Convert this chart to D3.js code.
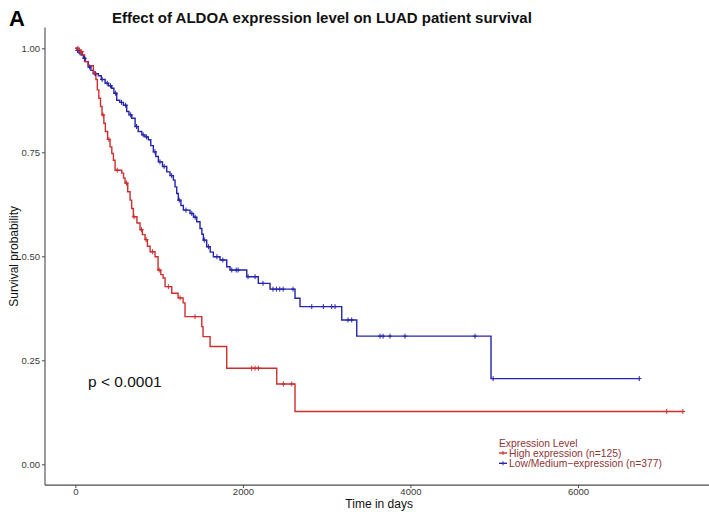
<!DOCTYPE html>
<html>
<head>
<meta charset="utf-8">
<script src="https://cdn.jsdelivr.net/npm/d3@7"></script>
<style>
  html, body { margin: 0; padding: 0; background: #fff; }
  svg { display: block; }
</style>
</head>
<body>
<svg id="chart" width="709" height="515"></svg>
<script>
// Kaplan–Meier step data: event times (days) and survival after each drop
const seriesNames = ["High expression (n=125)", "Low/Medium\u2212expression (n=377)"];
const seriesColors = ["#cd2e2e", "#2424ad"];

const highTime = [45, 85, 110, 150, 215, 245, 262, 280, 300, 318, 340, 358, 385, 414, 435, 454, 474, 554, 575, 593, 625, 653, 672, 692, 735, 772, 800, 832, 860, 892, 951, 987, 1020, 1047, 1071, 1151, 1226, 1286, 1309, 1509, 1524, 1608, 1807, 2404, 2622];
const highSurv = [0.992, 0.984, 0.968, 0.958, 0.940, 0.925, 0.900, 0.880, 0.860, 0.840, 0.820, 0.800, 0.781, 0.763, 0.747, 0.731, 0.707, 0.700, 0.688, 0.676, 0.655, 0.635, 0.615, 0.595, 0.580, 0.564, 0.552, 0.540, 0.524, 0.511, 0.499, 0.467, 0.456, 0.448, 0.427, 0.411, 0.400, 0.388, 0.355, 0.331, 0.307, 0.283, 0.231, 0.193, 0.127];
const highEnd = 7253;
const highCensor = [30, 60, 75, 230, 330, 400, 500, 610, 700, 790, 845, 920, 1000, 1110, 1250, 1429, 2105, 2145, 2185, 2483, 2583, 7060, 7253];

const lowTime = [20, 45, 70, 95, 120, 155, 185, 215, 275, 310, 355, 395, 434, 460, 494, 530, 573, 613, 640, 673, 713, 750, 793, 830, 871, 900, 931, 960, 991, 1040, 1091, 1130, 1170, 1190, 1210, 1229, 1260, 1289, 1369, 1410, 1449, 1488, 1510, 1528, 1568, 1610, 1647, 1727, 1807, 1846, 2046, 2184, 2324, 2622, 2682, 3180, 3359, 4962];
const lowSurv = [0.995, 0.989, 0.984, 0.976, 0.968, 0.955, 0.947, 0.939, 0.934, 0.925, 0.916, 0.910, 0.904, 0.892, 0.875, 0.870, 0.863, 0.848, 0.840, 0.832, 0.812, 0.800, 0.792, 0.787, 0.780, 0.766, 0.751, 0.740, 0.727, 0.716, 0.703, 0.694, 0.683, 0.667, 0.651, 0.635, 0.622, 0.611, 0.603, 0.594, 0.583, 0.567, 0.553, 0.539, 0.523, 0.510, 0.499, 0.491, 0.475, 0.467, 0.451, 0.435, 0.421, 0.399, 0.379, 0.347, 0.308, 0.206];
const lowEnd = 6732;
const lowCensor = [25, 55, 110, 170, 240, 320, 380, 420, 480, 550, 600, 660, 730, 810, 850, 950, 1010, 1060, 1150, 1240, 1320, 1390, 1430, 1540, 1590, 1690, 1760, 1867, 1920, 1943, 2061, 2145, 2240, 2359, 2400, 2440, 2480, 2598, 2822, 2960, 3060, 3100, 3255, 3299, 3637, 3673, 3756, 3935, 4771, 4987, 6732];

const xTicks = [0, 2000, 4000, 6000];
const yTicks = [0, 0.25, 0.5, 0.75, 1];

const svg = d3.select("#chart");

// panel geometry (ggplot-style 5% expansion on both axes)
const xMax = highEnd;
const xPad = xMax * 0.05;
const x = d3.scaleLinear().domain([-xPad, xMax + xPad]).range([45, 713.3]);
const y = d3.scaleLinear().domain([-0.05, 1.05]).range([485.1, 27.5]);

function stepPoints(times, surv, end) {
  const pts = [[0, 1]];
  times.forEach((t, i) => pts.push([t, surv[i]]));
  pts.push([end, surv[surv.length - 1]]);
  return pts;
}
function survAt(times, surv, t) {
  let s = 1;
  for (let i = 0; i < times.length; i++) { if (times[i] <= t) s = surv[i]; else break; }
  return s;
}

const series = [
  { name: seriesNames[0], color: seriesColors[0], pts: stepPoints(highTime, highSurv, highEnd),
    censor: highCensor.map(t => [t, survAt(highTime, highSurv, t)]) },
  { name: seriesNames[1], color: seriesColors[1], pts: stepPoints(lowTime, lowSurv, lowEnd),
    censor: lowCensor.map(t => [t, survAt(lowTime, lowSurv, t)]) }
];

// axes
const axisColor = "#4a4a4a";
const yAxis = svg.append("g").attr("transform", "translate(45,0)")
  .call(d3.axisLeft(y).tickValues(yTicks).tickFormat(d3.format(".2f")).tickSize(3).tickPadding(2));
const xAxis = svg.append("g").attr("transform", "translate(0,485.1)")
  .call(d3.axisBottom(x).tickValues(xTicks).tickFormat(d3.format("d")).tickSize(3).tickPadding(0.5));
[yAxis, xAxis].forEach(g => {
  g.select(".domain").attr("stroke", axisColor).attr("stroke-width", 1.1);
  g.selectAll(".tick line").attr("stroke", axisColor);
  g.selectAll(".tick text").attr("fill", "#3a3a3a")
    .style("font-family", "'Liberation Sans', Arial, sans-serif").style("font-size", "9.5px");
});
// extend the axis lines without end caps
yAxis.select(".domain").attr("d", `M0,${y(1.05)}V${y(-0.05)}`);
xAxis.select(".domain").attr("d", `M${x(-xPad)},0H709`);

// survival curves
const line = d3.line().x(d => x(d[0])).y(d => y(d[1])).curve(d3.curveStepAfter);
const curves = svg.append("g");
series.slice().reverse().forEach(s => {
  curves.append("path").attr("d", line(s.pts)).attr("fill", "none")
    .attr("stroke", s.color).attr("stroke-width", 1.4);
});
series.slice().reverse().forEach(s => {
  const g = curves.append("g").attr("stroke", s.color).attr("stroke-width", 1);
  s.censor.forEach(c => {
    const cx = x(c[0]), cy = y(c[1]);
    g.append("path").attr("d", `M${cx - 2.2},${cy}H${cx + 2.2}M${cx},${cy - 2.5}V${cy + 2.5}`);
  });
});

// text
const sans = "'Liberation Sans', Arial, Helvetica, sans-serif";
svg.append("text").attr("x", 9).attr("y", 26).text("A")
  .style("font-family", sans).style("font-weight", "bold").style("font-size", "22px").attr("fill", "#000");
svg.append("text").attr("x", 112).attr("y", 23).text("Effect of ALDOA expression level on LUAD patient survival")
  .style("font-family", sans).style("font-weight", "bold").style("font-size", "15px").attr("fill", "#111");
svg.append("text").attr("transform", `translate(18,${(y(1.05) + y(-0.05)) / 2}) rotate(-90)`)
  .attr("text-anchor", "middle").text("Survival probability")
  .style("font-family", sans).style("font-size", "12px").attr("fill", "#111");
svg.append("text").attr("x", (x(-xPad) + x(xMax + xPad)) / 2).attr("y", 508).attr("text-anchor", "middle")
  .text("Time in days").style("font-family", sans).style("font-size", "12px").attr("fill", "#111");
svg.append("text").attr("x", 88).attr("y", y(0.2)).attr("dy", "0.36em").text("p < 0.0001")
  .style("font-family", sans).style("font-size", "15.5px").attr("fill", "#111");

// legend
const legendColor = "#8e3636";
const lg = svg.append("g").attr("transform", "translate(499,0)");
lg.append("text").attr("x", 0).attr("y", 446.5).text("Expression Level")
  .style("font-family", sans).style("font-size", "10.3px").attr("fill", legendColor);
series.forEach((s, i) => {
  const cy = 453 + i * 10.3;
  lg.append("path").attr("d", `M0,${cy}H8`).attr("stroke", s.color).attr("stroke-width", 1.4);
  lg.append("path").attr("d", `M4,${cy - 2}V${cy + 2}`).attr("stroke", s.color).attr("stroke-width", 1);
  lg.append("text").attr("x", 10).attr("y", cy).attr("dy", "0.35em").text(s.name)
    .style("font-family", sans).style("font-size", "10.3px").attr("fill", legendColor);
});
</script>
</body>
</html>
